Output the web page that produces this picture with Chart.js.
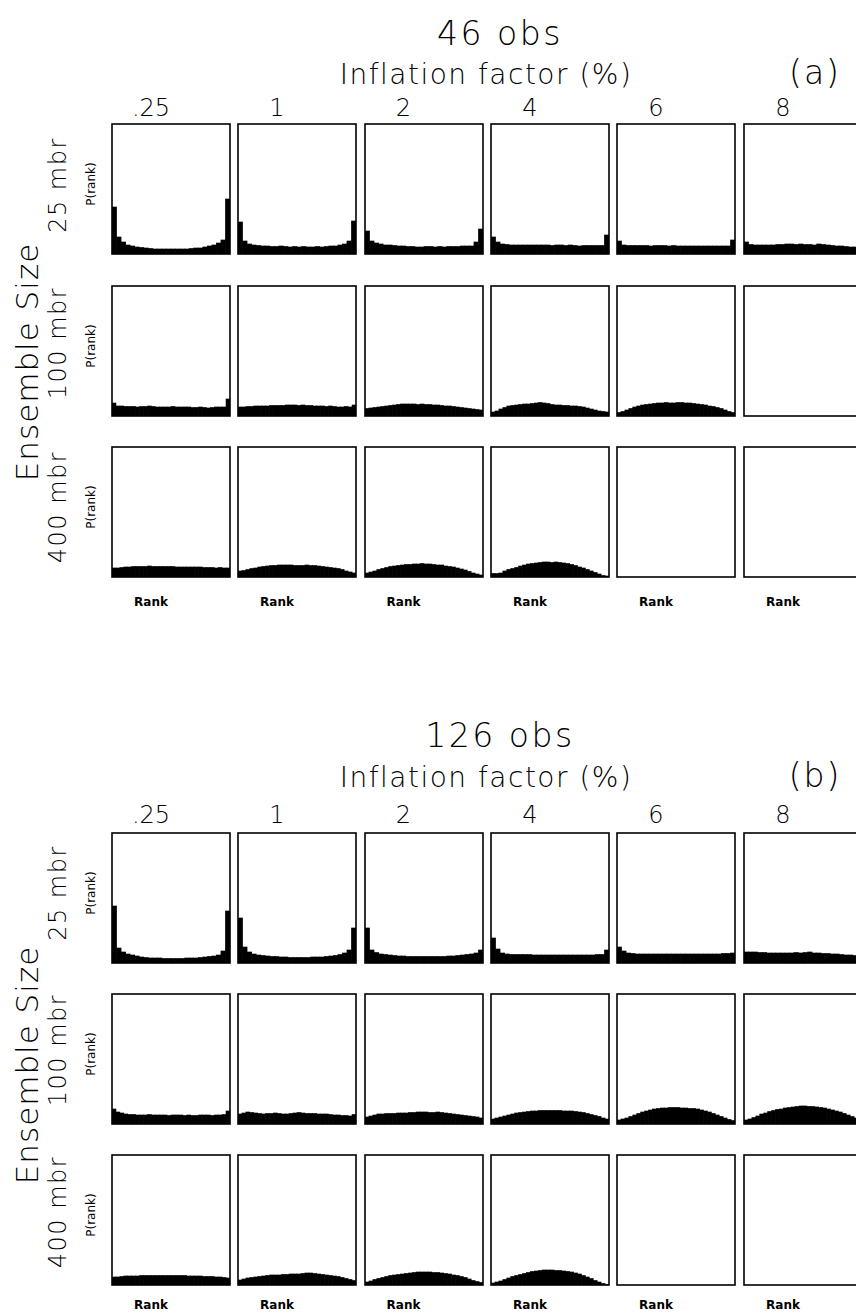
<!DOCTYPE html>
<html><head><meta charset="utf-8">
<script src="https://cdn.jsdelivr.net/npm/chart.js@4.4.1/dist/chart.umd.min.js"></script>
<style>
html,body{margin:0;padding:0;background:#fff}
body{width:856px;height:1315px;overflow:hidden;position:relative;font-family:"DejaVu Sans",sans-serif;color:#000}
.t{position:absolute;white-space:nowrap;transform:translate(-50%,-50%);line-height:1;color:#000}
.r{transform:translate(-50%,-50%) rotate(-90deg)}
canvas{position:absolute}
</style></head><body>
<script>
// ---- labels ----
const panelTitles = ['46 obs', '126 obs'];
const panelTags = ['(a)', '(b)'];
const axisTitle = 'Inflation factor (%)';
const inflationLabels = ['.25', '1', '2', '4', '6', '8'];
const ensembleLabels = ['25 mbr', '100 mbr', '400 mbr'];
const sideTitle = 'Ensemble Size';
const yLabel = 'P(rank)';
const xLabel = 'Rank';

// ---- data: normalized rank frequency, one list per inflation factor (null = no experiment) ----
const obs46_mbr25 = [
  [4.7,1.7,1.2,0.9,0.8,0.7,0.65,0.6,0.55,0.5,0.5,0.5,0.5,0.5,0.5,0.5,0.5,0.55,0.6,0.6,0.7,0.8,0.9,1.1,1.4,5.5],
  [3.2,1.3,1.0,0.9,0.85,0.8,0.8,0.75,0.75,0.8,0.75,0.7,0.75,0.7,0.75,0.7,0.7,0.75,0.7,0.75,0.8,0.8,0.9,1.0,1.3,3.3],
  [2.3,1.3,1.1,1.0,0.9,0.9,0.85,0.8,0.8,0.75,0.75,0.7,0.7,0.75,0.75,0.7,0.75,0.7,0.75,0.75,0.75,0.8,0.8,0.8,1.2,2.5],
  [1.7,1.2,1.0,0.95,0.9,0.9,0.9,0.9,0.9,0.9,0.9,0.9,0.9,0.85,0.9,0.9,0.85,0.9,0.85,0.8,0.85,0.85,0.85,0.85,0.85,1.9],
  [1.3,0.9,0.85,0.85,0.85,0.85,0.85,0.8,0.85,0.85,0.85,0.8,0.85,0.8,0.8,0.8,0.8,0.8,0.8,0.8,0.8,0.8,0.8,0.8,0.8,1.4],
  [1.2,0.95,0.9,0.9,0.9,0.9,0.9,0.95,0.95,1.0,1.0,0.95,1.0,0.95,0.95,0.9,1.0,0.95,0.9,0.85,0.8,0.8,0.75,0.7,0.7,0.7]
];
const obs46_mbr100 = [
  [1.3,1.0,1.0,0.95,0.95,0.95,0.9,0.95,0.95,1.0,0.95,0.9,0.9,0.9,0.9,0.95,0.9,0.9,0.9,0.9,0.85,0.85,0.9,0.85,0.8,0.85,0.9,0.9,0.9,1.7],
  [0.9,0.9,0.95,0.95,1.0,1.0,1.0,1.0,1.05,1.05,1.05,1.05,1.1,1.1,1.1,1.05,1.1,1.05,1.05,1.0,1.0,1.0,0.95,1.0,0.95,0.9,0.9,0.95,0.9,1.1],
  [0.75,0.8,0.85,0.9,0.95,1.0,1.05,1.1,1.15,1.2,1.2,1.2,1.2,1.15,1.2,1.15,1.15,1.1,1.1,1.05,1.0,1.0,0.95,0.9,0.85,0.8,0.75,0.7,0.65,0.6],
  [0.4,0.5,0.7,0.85,1.0,1.05,1.1,1.15,1.2,1.2,1.25,1.3,1.35,1.3,1.25,1.15,1.1,1.1,1.05,1.05,1.0,1.0,0.95,0.9,0.8,0.7,0.6,0.5,0.45,0.4],
  [0.35,0.45,0.6,0.75,0.9,1.0,1.1,1.15,1.2,1.25,1.3,1.3,1.35,1.3,1.3,1.35,1.35,1.3,1.3,1.25,1.2,1.15,1.1,1.0,0.95,0.85,0.75,0.6,0.45,0.35],
  null
];
const obs46_mbr400 = [
  [0.9,0.9,0.95,1.0,1.0,1.05,1.05,1.05,1.05,1.1,1.05,1.05,1.05,1.05,1.05,1.05,1.0,1.0,1.0,1.0,1.0,1.0,1.0,0.95,0.95,0.95,0.9,0.95,0.9,0.9],
  [0.6,0.65,0.75,0.85,0.9,1.0,1.05,1.1,1.15,1.15,1.2,1.2,1.2,1.2,1.15,1.15,1.15,1.2,1.15,1.15,1.1,1.05,1.0,0.95,0.9,0.85,0.75,0.6,0.5,0.4],
  [0.4,0.5,0.6,0.75,0.85,0.95,1.05,1.1,1.15,1.2,1.25,1.25,1.3,1.3,1.35,1.3,1.3,1.25,1.2,1.2,1.1,1.05,1.0,0.9,0.8,0.7,0.55,0.4,0.3,0.2],
  [0.35,0.35,0.4,0.6,0.75,0.85,0.95,1.1,1.2,1.3,1.35,1.4,1.45,1.5,1.5,1.45,1.5,1.45,1.4,1.35,1.25,1.15,1.0,0.9,0.75,0.6,0.45,0.3,0.15,0.1],
  null,
  null
];
const obs126_mbr25 = [
  [5.7,1.5,1.1,0.9,0.8,0.7,0.6,0.55,0.5,0.5,0.5,0.45,0.45,0.45,0.45,0.45,0.5,0.5,0.5,0.55,0.6,0.65,0.7,0.8,1.2,5.2],
  [4.5,1.6,1.1,0.9,0.8,0.75,0.7,0.65,0.65,0.6,0.6,0.55,0.55,0.55,0.55,0.55,0.6,0.6,0.6,0.65,0.7,0.75,0.85,1.0,1.3,3.5],
  [3.5,1.3,1.05,0.9,0.85,0.8,0.75,0.7,0.7,0.65,0.65,0.65,0.65,0.65,0.65,0.65,0.65,0.65,0.7,0.7,0.75,0.8,0.85,0.9,1.0,1.3],
  [2.5,1.4,1.0,0.9,0.85,0.85,0.85,0.85,0.85,0.8,0.8,0.8,0.8,0.8,0.8,0.8,0.8,0.8,0.8,0.8,0.8,0.8,0.8,0.85,0.85,1.3],
  [1.6,1.2,1.0,0.95,0.9,0.9,0.9,0.9,0.9,0.9,0.9,0.9,0.9,0.9,0.9,0.9,0.9,0.9,0.9,0.9,0.9,0.9,0.9,0.95,0.95,1.0],
  [1.1,1.1,1.1,1.05,1.05,1.0,1.0,1.0,1.0,1.0,1.0,1.05,1.0,1.05,1.1,1.0,1.0,0.95,0.95,0.9,0.9,0.85,0.8,0.8,0.75,0.75]
];
const obs126_mbr100 = [
  [1.5,1.2,1.1,1.0,0.95,0.95,0.9,0.9,0.9,0.95,0.9,0.9,0.9,0.9,0.85,0.9,0.9,0.9,0.85,0.9,0.85,0.85,0.9,0.9,0.9,0.85,0.9,0.9,0.95,1.3],
  [1.0,1.1,1.2,1.15,1.1,1.05,1.0,1.05,1.05,1.1,1.05,1.0,1.0,1.05,1.1,1.15,1.1,1.05,1.05,1.05,1.0,1.0,1.0,0.95,0.9,0.9,0.85,0.85,0.8,0.95],
  [0.7,0.8,0.9,1.0,1.0,1.05,1.05,1.05,1.1,1.1,1.1,1.15,1.15,1.2,1.2,1.2,1.15,1.15,1.2,1.15,1.1,1.05,1.0,0.95,0.9,0.85,0.8,0.75,0.7,0.6],
  [0.5,0.6,0.7,0.8,0.9,1.0,1.1,1.15,1.2,1.25,1.3,1.3,1.35,1.35,1.35,1.35,1.35,1.35,1.3,1.3,1.3,1.25,1.2,1.15,1.05,0.95,0.85,0.75,0.6,0.5],
  [0.4,0.5,0.6,0.75,0.9,1.05,1.2,1.3,1.4,1.5,1.55,1.6,1.6,1.65,1.65,1.65,1.6,1.6,1.55,1.55,1.5,1.4,1.3,1.2,1.05,0.9,0.75,0.6,0.45,0.35],
  [0.4,0.5,0.65,0.8,1.0,1.1,1.25,1.35,1.45,1.5,1.6,1.65,1.7,1.75,1.8,1.8,1.75,1.75,1.7,1.65,1.6,1.5,1.4,1.3,1.2,1.05,0.9,0.75,0.6,0.45]
];
const obs126_mbr400 = [
  [0.8,0.8,0.85,0.9,0.9,0.9,0.9,0.95,0.95,0.95,0.95,0.95,0.95,0.95,0.95,0.95,0.95,0.95,0.95,0.9,0.9,0.9,0.9,0.85,0.85,0.85,0.8,0.8,0.75,0.7],
  [0.5,0.6,0.7,0.75,0.8,0.85,0.9,0.95,1.0,1.0,1.0,1.05,1.05,1.1,1.1,1.1,1.15,1.2,1.2,1.15,1.1,1.05,1.0,0.95,0.9,0.85,0.75,0.65,0.55,0.45],
  [0.3,0.4,0.55,0.65,0.75,0.85,0.95,1.0,1.05,1.1,1.15,1.2,1.25,1.3,1.3,1.3,1.3,1.25,1.25,1.2,1.15,1.1,1.0,0.95,0.85,0.75,0.6,0.45,0.35,0.25],
  [0.2,0.3,0.4,0.55,0.7,0.85,0.95,1.05,1.15,1.25,1.35,1.4,1.45,1.5,1.5,1.5,1.45,1.45,1.4,1.35,1.3,1.2,1.1,0.95,0.8,0.65,0.45,0.3,0.15,0.05],
  null,
  null
];
const yMax = 13;

// ---- layout ----
const colLeft = [112, 238, 364.5, 491, 617, 744];
const boxW = 118, boxH = 130;
const panels = [
  {rows:[124,286,447], titleY:33, axisY:75, tagY:72, colLabY:108, rankY:602, sideY:362,
   rowLabY:[185,343,507], data:[obs46_mbr25, obs46_mbr100, obs46_mbr400]},
  {rows:[833,994,1155], titleY:735, axisY:778, tagY:775, colLabY:815, rankY:1305, sideY:1065,
   rowLabY:[893,1050,1212], data:[obs126_mbr25, obs126_mbr100, obs126_mbr400]}
];

function text(str, x, y, size, extra, rot) {
  const d = document.createElement('div');
  d.className = 't' + (rot ? ' r' : '');
  d.textContent = str;
  d.style.left = x + 'px';
  d.style.top = y + 'px';
  d.style.fontSize = size + 'px';
  if (extra) Object.assign(d.style, extra);
  document.body.appendChild(d);
}

const frame = {
  id: 'frame',
  afterDraw(chart) {
    const a = chart.chartArea, c = chart.ctx;
    c.save();
    c.strokeStyle = '#000';
    c.lineWidth = 1.6;
    c.strokeRect(a.left, a.top, a.right - a.left, a.bottom - a.top);
    c.restore();
  }
};

panels.forEach((p, pi) => {
  text(panelTitles[pi], 500, p.titleY, 33, {letterSpacing:'2.5px', fontWeight:'300'});
  text(axisTitle, 486, p.axisY, 28, {letterSpacing:'1.5px', fontWeight:'300'});
  text(panelTags[pi], 815, p.tagY, 33, {letterSpacing:'2px', fontWeight:'300'});
  inflationLabels.forEach((lab, ci) => {
    text(lab, colLeft[ci] + 39, p.colLabY, 24, {fontWeight:'300'});
    text(xLabel, colLeft[ci] + 39, p.rankY, 12, {fontWeight:'bold'});
  });
  text(sideTitle, 27, p.sideY, 31, {letterSpacing:'1px', fontWeight:'300'}, true);
  p.rows.forEach((top, ri) => {
    text(ensembleLabels[ri], 58, p.rowLabY[ri], 24, {letterSpacing:'1.5px', fontWeight:'300'}, true);
    text(yLabel, 91, top + 60, 12, null, true);
    p.data[ri].forEach((vals, ci) => {
      const cv = document.createElement('canvas');
      cv.width = boxW + 4; cv.height = boxH + 4;
      cv.style.left = (colLeft[ci] - 2) + 'px';
      cv.style.top = (top - 2) + 'px';
      cv.style.width = (boxW + 4) + 'px';
      cv.style.height = (boxH + 4) + 'px';
      document.body.appendChild(cv);
      const v = vals || [];
      new Chart(cv, {
        type: 'bar',
        data: {
          labels: v.map((_, i) => i + 1),
          datasets: [{data: v, backgroundColor: '#000', borderWidth: 0,
                      barPercentage: 1, categoryPercentage: 1}]
        },
        options: {
          responsive: false, animation: false, events: [],
          devicePixelRatio: 1,
          layout: {padding: 2},
          plugins: {legend: {display: false}, tooltip: {enabled: false}, title: {display: false}},
          scales: {x: {display: false}, y: {display: false, min: 0, max: yMax}}
        },
        plugins: [frame]
      });
    });
  });
});
</script>
</body></html>
